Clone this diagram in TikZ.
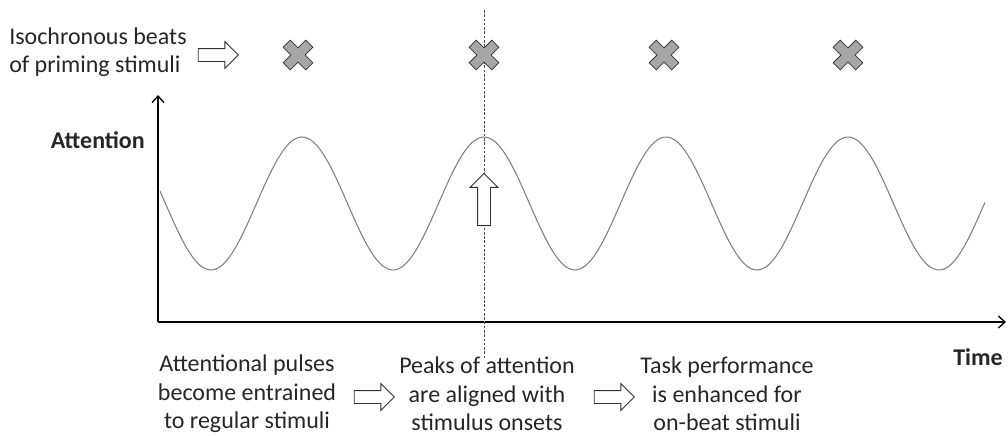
\documentclass[tikz,border=0pt]{standalone}
\usepackage{fontspec}
\setmainfont{Carlito}
\usetikzlibrary{arrows.meta,positioning,shapes.arrows}

\tikzset{
    label text/.style={font=\fontsize{18}{21.4}\selectfont, text=black!85, align=center, inner sep=0pt},
    block arrow/.style={single arrow, draw=black!80, fill=white, line width=0.7pt,
        minimum height=#1, single arrow head extend=5.2pt, inner sep=4.5pt},
    beat/.style={draw=black!80, fill=black!35, line width=0.6pt},
}

\begin{document}
\begin{tikzpicture}[x=0.75pt,y=-0.75pt]
    \useasboundingbox (0,0) rectangle (1008,436);

    % Axes
    \coordinate (origin) at (158,322);
    \coordinate (ytop) at (158,95);
    \coordinate (xend) at (1006,322);
    \draw[-{Straight Barb[length=5pt,width=9pt]},line width=1pt] (origin) -- (ytop);
    \draw[-{Straight Barb[length=5pt,width=9pt]},line width=1pt] (origin) -- (xend);
    \node[label text,font=\fontsize{18}{21.4}\selectfont\bfseries,anchor=east] (att) at (145,140) {Attention};
    \node[label text,font=\fontsize{18}{21.4}\selectfont\bfseries,anchor=east] (time) at (1003,357) {Time};

    % Onset marker
    \coordinate (dtop) at (484,10);
    \coordinate (dbot) at (484,358);
    \draw[black!70,line width=0.4pt,dash pattern=on 2pt off 1.2pt] (dtop) -- (dbot);

    % Attention oscillation
    \draw[black!50,line width=0.8pt,domain=160:985,samples=240,smooth]
        plot (\x,{203.5-66.5*cos((\x-484)/182*360)});

    % Priming stimuli
    \node[label text,align=left,anchor=west] (prime) at (9,52) {Isochronous beats\\of priming stimuli};
    \node[block arrow=40*0.75pt] (primearr) at (215,55) {};
    \foreach \bx in {298,484,664,848}
        \draw[beat,shift={(\bx,55)},rotate=45]
            (-5,-16) -- (5,-16) -- (5,-5) -- (16,-5) -- (16,5) -- (5,5) -- (5,16)
            -- (-5,16) -- (-5,5) -- (-16,5) -- (-16,-5) -- (-5,-5) -- cycle;

    % Peak arrow
    \node[block arrow=52*0.75pt,shape border rotate=90,single arrow head extend=5.5pt,anchor=tail] (peakarr) at (484,226) {};

    % Steps below the axis
    \node[label text] (step1) at (247,394) {Attentional pulses\\become entrained\\to regular stimuli};
    \node[label text] (step2) at (487,394) {Peaks of attention\\are aligned with\\stimulus onsets};
    \node[label text] (step3) at (727,394) {Task performance\\is enhanced for\\on-beat stimuli};
    \node[block arrow=40*0.75pt] (arr12) at (371,397) {};
    \node[block arrow=40*0.75pt] (arr23) at (611,397) {};
\end{tikzpicture}
\end{document}
